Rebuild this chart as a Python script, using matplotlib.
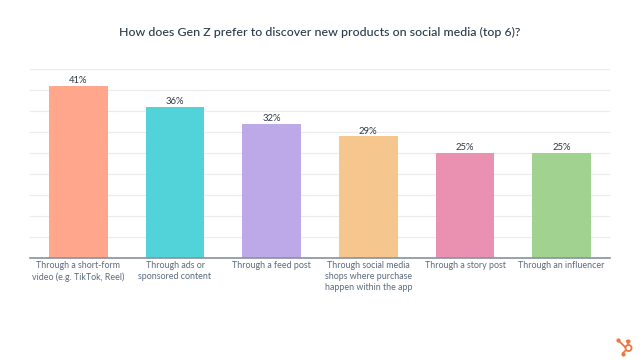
import matplotlib
matplotlib.use("Agg")
import matplotlib.pyplot as plt
from matplotlib.lines import Line2D
from matplotlib.patches import Circle

plt.rcParams['font.family'] = ['Lato', 'DejaVu Sans']

W, H = 640, 360

categories = [
    "Through a short-form\nvideo (e.g. TikTok, Reel)",
    "Through ads or\nsponsored content",
    "Through a feed post",
    "Through social media\nshops where purchase\nhappen within the app",
    "Through a story post",
    "Through an influencer",
]
values = [41, 36, 32, 29, 25, 25]
colors = ["#FFA68C", "#51D3D9", "#BDA8E8", "#F5C78E", "#EA90B1", "#A2D28F"]
grid_ticks = [5, 10, 15, 20, 25, 30, 35, 40, 45]

fig = plt.figure(figsize=(W / 100, H / 100), dpi=100, facecolor="white")
ax = fig.add_axes([30 / W, 1 - 258 / H, 580 / W, 188.7 / H])

xs = list(range(len(categories)))
ax.bar(xs, values, width=0.61, color=colors, zorder=2)
for x, v in zip(xs, values):
    ax.text(x, v + 0.2, f"{v}%", ha="center", va="bottom", fontsize=6.8, color="#2E3A47")

ax.set_xlim(-0.5, 5.5)
ax.set_ylim(0, 45)
ax.set_yticks(grid_ticks)
ax.set_yticklabels([])
ax.tick_params(axis="both", length=0)
ax.grid(axis="y", color="#E9ECEF", linewidth=0.8, zorder=1)
for s in ["top", "left", "right"]:
    ax.spines[s].set_visible(False)
ax.spines["bottom"].set_color("#87929E")
ax.spines["bottom"].set_linewidth(1.2)
ax.spines["bottom"].set_zorder(3)

ax.set_xticks(xs)
ax.set_xticklabels(categories, fontsize=6.4, color="#5C6B7D", linespacing=1.25)
ax.tick_params(axis="x", pad=2.4)

fig.text(320 / W, 1 - 32 / H, "How does Gen Z prefer to discover new products on social media (top 6)?",
         ha="center", va="center", fontsize=8.9, fontweight="medium", color="#2A3A4A")

# hubspot sprocket bottom right
logo = "#F0743F"
px = lambda x, y: (x / W, 1 - y / H)
for (x0, y0), (x1, y1) in [((618, 340), (625, 347)), ((627, 341), (628, 344)), ((623, 353), (625, 351))]:
    fig.add_artist(Line2D([px(x0, y0)[0], px(x1, y1)[0]], [px(x0, y0)[1], px(x1, y1)[1]],
                          color=logo, linewidth=1.3, transform=fig.transFigure))
fig.add_artist(Circle((628.5, H - 348), 3, fill=False, edgecolor=logo, linewidth=1.3, transform=None))
for x, y in [(617.5, 339.5), (628, 340.5), (622.5, 353.5)]:
    fig.add_artist(Line2D([px(x, y)[0]], [px(x, y)[1]], marker="o", markersize=2, color=logo,
                          linestyle="none", transform=fig.transFigure))

fig.savefig("out.png", dpi=100, facecolor="white")
